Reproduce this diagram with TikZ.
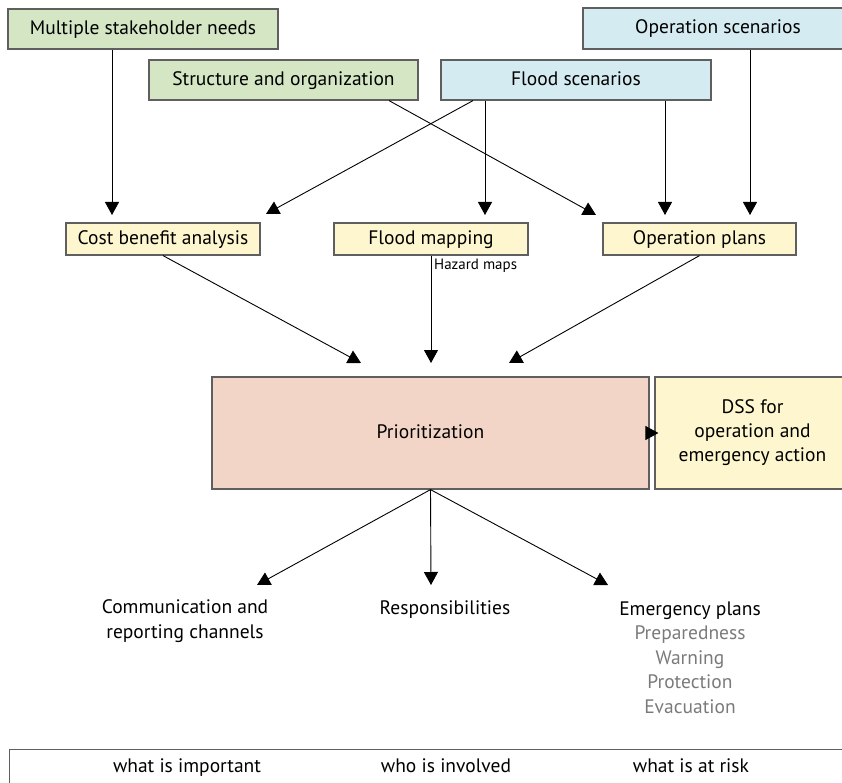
\documentclass[tikz,border=0pt]{standalone}
\usepackage{fontspec}
\setmainfont{PT Sans}
\usetikzlibrary{arrows.meta}
\definecolor{boxgreen}{HTML}{D4E6C4}
\definecolor{boxblue}{HTML}{D5EBF2}
\definecolor{boxyellow}{HTML}{FDF6CE}
\definecolor{boxrose}{HTML}{F2D5C6}
\definecolor{framegray}{HTML}{5F5F5F}
\definecolor{listgray}{HTML}{7A7A7A}

\begin{document}
\begin{tikzpicture}[x=1pt,y=-1pt,
  box/.style={draw=framegray,line width=1.2pt,inner sep=0pt,font=\fontsize{19.5}{24}\selectfont,align=center},
  one/.style={text height=15pt,text depth=4pt},
  arr/.style={-{Triangle[length=13pt,width=14pt]},line width=0.9pt},
  lab/.style={font=\fontsize{19.5}{24.5}\selectfont,align=center}]
  \useasboundingbox (0,0) rectangle (842,783);
  \clip (0,0) rectangle (842,783);
  \node[box,one,fill=boxgreen,minimum width=270pt,minimum height=40pt] (needs) at (143,29) {Multiple stakeholder needs};
  \node[box,one,fill=boxblue,minimum width=270pt,minimum height=41pt] (opscen) at (718,28.5) {Operation scenarios};
  \node[box,one,fill=boxgreen,minimum width=269pt,minimum height=40pt] (struct) at (283.5,80) {Structure and organization};
  \node[box,one,fill=boxblue,minimum width=270pt,minimum height=40pt] (floodscen) at (576,80) {Flood scenarios};
  \node[box,one,fill=boxyellow,minimum width=194pt,minimum height=32pt] (cba) at (163,239) {Cost benefit analysis};
  \node[box,one,fill=boxyellow,minimum width=194pt,minimum height=32pt] (fmap) at (431,239) {Flood mapping};
  \node[box,one,fill=boxyellow,minimum width=193pt,minimum height=32pt] (oplans) at (699.5,239) {Operation plans};
  \node[box,one,fill=boxrose,minimum width=437pt,minimum height=112pt] (prior) at (430.5,433) {Prioritization};
  \node[box,fill=boxyellow,minimum width=195pt,minimum height=112pt] (dss) at (752.5,433) {DSS for\\operation and\\emergency action};

  \coordinate (tA) at (112,215);
  \coordinate (tB) at (266,214);
  \coordinate (tC) at (485,215);
  \coordinate (tD) at (596,215);
  \coordinate (tE) at (665,215);
  \coordinate (tF) at (750,215);
  \coordinate (tG) at (361,363);
  \coordinate (tH) at (431,363);
  \coordinate (tI) at (509,363);
  \coordinate (tJ) at (257,585);
  \coordinate (tK) at (431,585);
  \coordinate (tL) at (608,585);

  \foreach \src/\tip in {needs/tA,floodscen/tC,floodscen/tE,opscen/tF}
    \draw[arr] (\src.south -| \tip) -- (\tip);
  \draw[arr] ([xshift=-103pt]floodscen.south) -- (tB);
  \draw[arr] ([xshift=105.5pt]struct.south) -- (tD);
  \foreach \src/\tip in {cba/tG,fmap/tH,oplans/tI}
    \draw[arr] (\src.south) -- (\tip);
  \node[anchor=west,inner sep=0pt,font=\fontsize{15}{17}\selectfont] (hazard) at (434,266) {Hazard maps};
  \draw[arr] ([xshift=-3pt]prior.east) -- ([xshift=4pt]dss.west);
  \foreach \tip in {tJ,tK,tL}
    \draw[arr] (prior.south) -- (\tip);

  \node[lab] (comm) at (185,621) {Communication and\\reporting channels};
  \node[lab,one] (resp) at (445,609) {Responsibilities};
  \node[lab] (emerg) at (690,657.5) {Emergency plans\\\textcolor{listgray}{Preparedness}\\\textcolor{listgray}{Warning}\\\textcolor{listgray}{Protection}\\\textcolor{listgray}{Evacuation}};

  \node[draw=framegray,line width=1.2pt,minimum width=860pt,minimum height=60pt,anchor=north west] (bar) at (9,749) {};
  \node[lab,one] (important) at (187,767) {what is important};
  \node[lab,one] (involved) at (446,767) {who is involved};
  \node[lab,one] (risk) at (691,767) {what is at risk};
\end{tikzpicture}
\end{document}
